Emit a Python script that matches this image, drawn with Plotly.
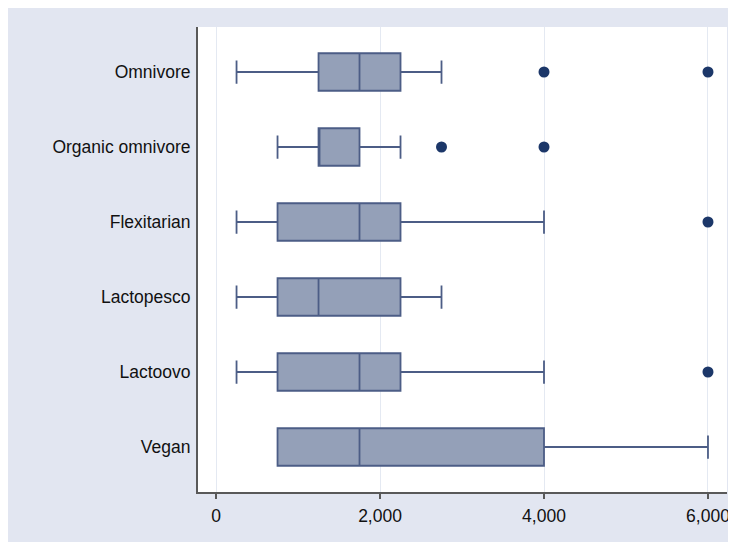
import plotly.graph_objects as go

categories = ["Omnivore", "Organic omnivore", "Flexitarian", "Lactopesco", "Lactoovo", "Vegan"]
lower_whisker = [250, 750, 250, 250, 250, 750]
q1_values = [1250, 1250, 750, 750, 750, 750]
median_values = [1750, 1250, 1750, 1250, 1750, 1750]
q3_values = [2250, 1750, 2250, 2250, 2250, 4000]
upper_whisker = [2750, 2250, 4000, 2750, 4000, 6000]

outlier_cats = ["Omnivore", "Omnivore", "Organic omnivore", "Organic omnivore", "Flexitarian", "Lactoovo"]
outlier_vals = [4000, 6000, 2750, 4000, 6000, 6000]

x_tickvals = [0, 2000, 4000, 6000]
x_ticktext = ["0", "2,000", "4,000", "6,000"]

BG = "#E2E6F1"
FILL = "#94A0B8"
LINE = "#4C5D86"
DOT = "#1C3769"
FONT = "Liberation Sans, Arial, sans-serif"

fig = go.Figure()
fig.add_trace(go.Box(
    y=categories,
    q1=q1_values,
    median=median_values,
    q3=q3_values,
    lowerfence=lower_whisker,
    upperfence=upper_whisker,
    orientation="h",
    fillcolor=FILL,
    line=dict(color=LINE, width=1.8),
    width=0.5,
    whiskerwidth=0.62,
    boxpoints=False,
    showlegend=False,
))
fig.add_trace(go.Scatter(
    x=outlier_vals,
    y=outlier_cats,
    mode="markers",
    marker=dict(color=DOT, size=11),
    showlegend=False,
))

fig.update_layout(
    width=736,
    height=542,
    margin=dict(l=190, r=17, t=19, b=58),
    paper_bgcolor=BG,
    plot_bgcolor="white",
    font=dict(family=FONT, size=17.5, color="#111111"),
)
fig.update_xaxes(
    range=[-220, 6232],
    tickvals=x_tickvals,
    ticktext=x_ticktext,
    showgrid=True,
    gridcolor="#E4E9F2",
    gridwidth=1,
    zeroline=False,
    showline=True,
    linecolor="#595959",
    linewidth=2,
    ticks="outside",
    ticklen=5,
    tickwidth=1.5,
    tickcolor="#595959",
    ticklabelstandoff=2,
    tickfont=dict(size=17.5, color="#111111"),
)
fig.update_yaxes(
    type="category",
    categoryorder="array",
    categoryarray=categories,
    range=[5.6, -0.6],
    showgrid=False,
    zeroline=False,
    showline=True,
    linecolor="#595959",
    linewidth=2,
    ticks="",
    ticklabelstandoff=2,
    tickfont=dict(size=17.5, color="#111111"),
)

fig.write_html("out.html")
